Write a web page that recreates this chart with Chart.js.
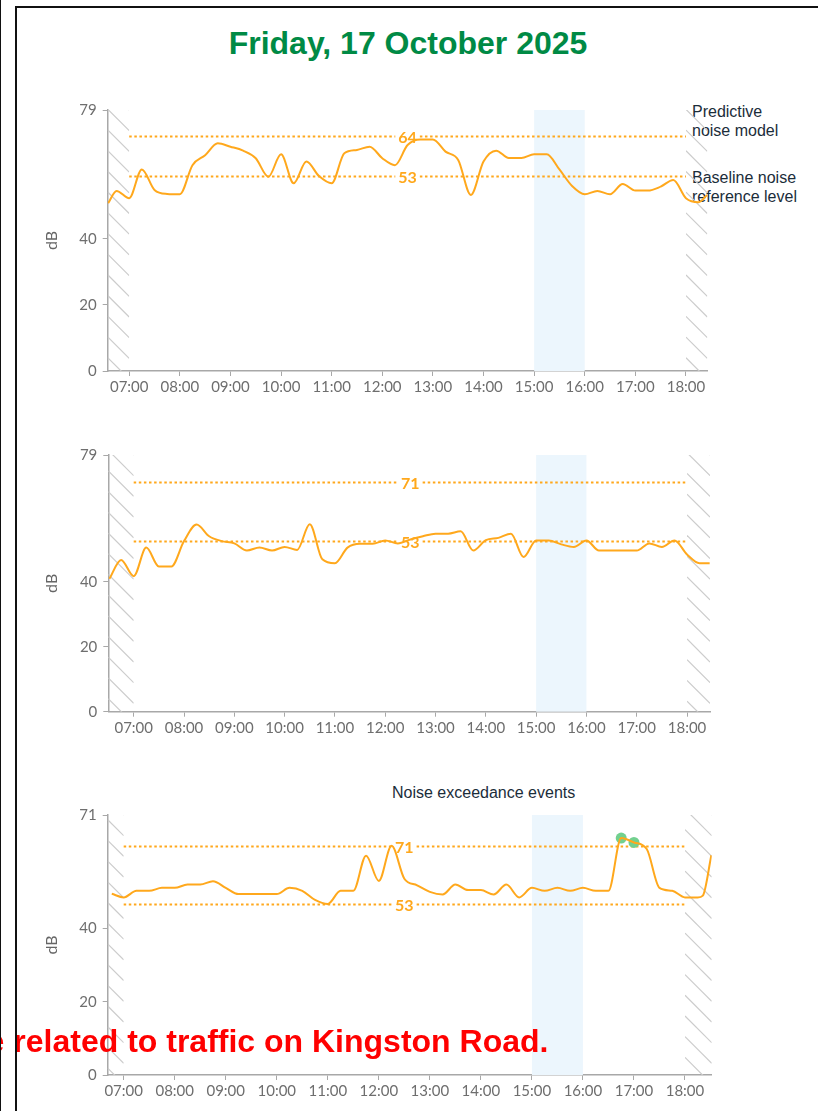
<!DOCTYPE html>
<html><head><meta charset="utf-8">
<script src="https://cdn.jsdelivr.net/npm/chart.js@4.4.1/dist/chart.umd.min.js"></script>
<style>
html,body{margin:0;padding:0;background:#fff;width:818px;height:1111px;overflow:hidden;position:relative;font-family:"Liberation Sans",Arial,sans-serif;}
canvas{position:absolute;}
.t{position:absolute;white-space:nowrap;}
#frame{position:absolute;left:15px;top:6px;width:900px;height:1200px;border-left:2.5px solid #111;border-top:2px solid #111;z-index:5;}
#edge{position:absolute;left:0;top:0;width:1.2px;height:1111px;background:#111;z-index:5;}
#title{left:0;width:816px;top:27px;text-align:center;font-size:32px;line-height:32px;font-weight:bold;color:#008a45;}
.lg{font-size:16px;line-height:19px;color:#1b2d3a;}
#note{left:-13.4px;top:1025px;font-size:32px;line-height:32px;font-weight:bold;color:#ff0000;z-index:4;}
</style></head><body>
<div id="edge"></div>
<div id="frame"></div>
<div class="t" id="title">Friday, 17 October 2025</div>
<div class="t lg" style="left:692px;top:102px;">Predictive<br>noise model</div>
<div class="t lg" style="left:692px;top:168px;">Baseline noise<br>reference level</div>
<div class="t lg" style="left:392px;top:783px;">Noise exceedance events</div>
<canvas id="c1" width="790" height="300" style="left:20px;top:95px;"></canvas>
<canvas id="c2" width="790" height="295" style="left:20px;top:440px;"></canvas>
<canvas id="c3" width="790" height="305" style="left:20px;top:800px;"></canvas>
<div class="t" id="note">e related to traffic on Kingston Road.</div>
<script>
// ---------- data ----------
const xTickLabels = ['07:00','08:00','09:00','10:00','11:00','12:00','13:00','14:00','15:00','16:00','17:00','18:00'];
const yTicks1 = [0,20,40,79];
const yTicks2 = [0,20,40,79];
const yTicks3 = [0,20,40,71];

const times1 = ['06:35','06:45','07:00','07:15','07:30','07:45','08:00','08:15','08:30','08:45','09:00','09:15','09:30','09:45','10:00','10:15','10:30','10:45','11:00','11:15','11:30','11:45','12:00','12:15','12:30','12:45','13:00','13:15','13:30','13:45','14:00','14:15','14:30','14:45','15:00','15:15','15:30','15:45','16:00','16:15','16:30','16:45','17:00','17:15','17:30','17:45','18:00','18:15','18:25'];
const values1 = [50.8,54.5,52.3,61.0,54.8,53.6,53.5,62.3,65.3,68.9,67.9,66.7,64.4,58.8,65.6,56.8,63.4,59.0,56.8,65.9,66.9,67.9,64.4,62.3,68.4,70.1,70.1,66.4,63.9,53.3,63.4,66.7,64.5,64.5,65.6,65.6,61.0,56.0,53.5,54.5,53.5,56.6,54.6,54.6,55.8,57.8,52.3,51.1,53.3];

const times2 = ['06:31','06:45','07:00','07:15','07:30','07:45','08:00','08:15','08:30','08:45','09:00','09:15','09:30','09:45','10:00','10:15','10:30','10:45','11:00','11:15','11:30','11:45','12:00','12:15','12:30','12:45','13:00','13:15','13:30','13:45','14:00','14:15','14:30','14:45','15:00','15:15','15:30','15:45','16:00','16:15','16:30','16:45','17:00','17:15','17:30','17:45','18:00','18:15','18:27'];
const values2 = [40.9,46.7,41.7,50.5,44.7,44.7,52.5,57.6,54.0,52.5,51.8,49.6,50.5,49.6,50.7,49.8,57.7,46.9,45.7,50.5,51.7,51.7,52.7,51.8,53.0,54.0,54.8,54.8,55.5,49.6,52.8,53.5,54.8,47.6,52.7,52.7,51.5,50.7,52.7,49.6,49.6,49.6,49.6,51.8,50.7,52.7,48.4,45.7,45.7];

const times3 = ['06:46','07:00','07:15','07:30','07:45','08:00','08:15','08:30','08:45','09:00','09:15','09:30','09:45','10:00','10:15','10:30','10:45','11:00','11:15','11:30','11:45','12:00','12:15','12:30','12:45','13:00','13:15','13:30','13:45','14:00','14:15','14:30','14:45','15:00','15:15','15:30','15:45','16:00','16:15','16:30','16:45','17:00','17:15','17:30','17:45','18:00','18:15','18:21','18:31'];
const values3 = [49.5,48.5,50.3,50.3,51.1,51.1,52.0,52.0,52.9,51.1,49.4,49.4,49.4,49.4,51.1,50.3,47.8,46.7,50.3,50.3,59.9,53.0,62.6,53.6,51.8,50.0,49.3,52.0,50.5,50.5,49.3,52.0,48.5,51.1,50.3,51.1,50.3,51.1,50.3,50.3,64.7,63.5,61.7,51.1,50.3,48.5,48.5,49.0,60.0];

const eventTimes = ['16:45','17:00'];
const eventValues = [64.7,63.5];

const refValues1 = [71.2,58.9]; const refLabels1 = ['64','53'];
const refValues2 = [70.6,52.6]; const refLabels2 = ['71','53'];
const refValues3 = [62.6,46.7]; const refLabels3 = ['71','53'];

const bandStart = '15:00', bandEnd = '16:00';
const coverStart = '07:00', coverEnd = '18:00';
const refLabelAt = '12:30';

// ---------- helpers ----------
function hm(s){const p=s.split(':');return (+p[0])*60+(+p[1]);}
const hourValues = xTickLabels.map(hm);
const ORANGE = '#ffa81c';

function hatch(ctx,x0,x1,top,bottom){
  ctx.save();
  ctx.beginPath(); ctx.rect(x0,top,x1-x0,bottom-top); ctx.clip();
  ctx.strokeStyle='#cccccc'; ctx.lineWidth=1.2;
  const w=x1-x0, step=20.7;
  for(let y=top-w-step*2; y<bottom+step; y+=step){
    ctx.beginPath(); ctx.moveTo(x0,y); ctx.lineTo(x1,y+w); ctx.stroke();
  }
  ctx.restore();
}

const deco = {
  id:'deco',
  beforeDatasetsDraw(chart){
    const o = chart.options.plugins.deco;
    const {ctx, chartArea:a} = chart; const x=chart.scales.x, y=chart.scales.y;
    ctx.save();
    const b0=x.getPixelForValue(hm(bandStart)), b1=x.getPixelForValue(hm(bandEnd));
    ctx.fillStyle='#ecf6fd'; ctx.fillRect(b0,a.top,b1-b0,a.bottom-a.top);
    const c0=x.getPixelForValue(hm(coverStart)), c1=x.getPixelForValue(hm(coverEnd));
    hatch(ctx,a.left,c0,a.top,a.bottom); hatch(ctx,c1,a.right,a.top,a.bottom);
    const lx=x.getPixelForValue(hm(refLabelAt));
    ctx.font='bold 16px Lato'; ctx.textAlign='center'; ctx.textBaseline='middle';
    o.refs.forEach((v,i)=>{
      const py=Math.round(y.getPixelForValue(v))+0.5;
      const lab=o.labels[i]; const w=ctx.measureText(lab).width;
      ctx.strokeStyle=ORANGE; ctx.lineWidth=2; ctx.setLineDash([2.5,2.6]);
      ctx.beginPath(); ctx.moveTo(c0,py); ctx.lineTo(lx-w/2-3,py); ctx.stroke();
      ctx.beginPath(); ctx.moveTo(lx+w/2+3,py); ctx.lineTo(c1,py); ctx.stroke();
      ctx.setLineDash([]);
      ctx.fillStyle=ORANGE; ctx.fillText(lab,lx,py+1);
    });
    ctx.restore();
  },
  afterDraw(chart){
    const {ctx, chartArea:a} = chart;
    ctx.save();
    ctx.translate(32,(a.top+a.bottom)/2); ctx.rotate(-Math.PI/2);
    ctx.font='16px Lato'; ctx.fillStyle='#666'; ctx.textAlign='center'; ctx.textBaseline='middle';
    ctx.fillText('dB',0,0);
    ctx.restore();
  }
};

function build(id, times, values, xmin, xmax, yTicks, refs, labels, geom, extra){
  const datasets=[{
    data: times.map((t,i)=>({x:hm(t),y:values[i]})),
    borderColor:ORANGE, borderWidth:2, pointRadius:0, fill:false,
    cubicInterpolationMode:'monotone'
  }];
  if(extra) datasets.push(extra);
  return new Chart(document.getElementById(id),{
    type:'line',
    data:{datasets},
    plugins:[deco],
    options:{
      responsive:false, animation:false, devicePixelRatio:1,
      layout:{padding:{top:geom.padTop,right:geom.padRight,left:0,bottom:0}},
      plugins:{legend:{display:false},tooltip:{enabled:false},deco:{refs,labels}},
      scales:{
        x:{type:'linear',min:xmin,max:xmax,
          afterBuildTicks:s=>{s.ticks=hourValues.map(v=>({value:v}));},
          afterFit:s=>{s.height=geom.xHeight;},
          ticks:{autoSkip:false,maxRotation:0,padding:2,color:'#6e6e6e',font:{family:'Lato',size:15},
            callback:v=>xTickLabels[hourValues.indexOf(v)]},
          grid:{drawOnChartArea:false,drawTicks:true,tickLength:5,color:'#a8a8a8',lineWidth:1},
          border:{display:true,color:'#a8a8a8',width:1.5}},
        y:{type:'linear',min:0,max:yTicks[yTicks.length-1],
          afterBuildTicks:s=>{s.ticks=yTicks.map(v=>({value:v}));},
          afterFit:s=>{s.width=geom.yWidth;},
          ticks:{padding:6,color:'#6e6e6e',font:{family:'Lato',size:15},callback:v=>String(v)},
          grid:{drawOnChartArea:false,drawTicks:true,tickLength:5,color:'#a8a8a8',lineWidth:1},
          border:{display:true,color:'#a8a8a8',width:1.5}}
      }
    }
  });
}

build('c1',times1,values1,394.5,1105.3,yTicks1,refValues1,refLabels1,{yWidth:87.7,xHeight:24,padTop:15,padRight:102.7});
build('c2',times2,values2,389.7,1107.4,yTicks2,refValues2,refLabels2,{yWidth:88.3,xHeight:23.3,padTop:10.7,padRight:100});
build('c3',times3,values3,401.2,1111.4,yTicks3,refValues3,refLabels3,{yWidth:87.7,xHeight:30,padTop:12.3,padRight:98.3},
  {data:eventTimes.map((t,i)=>({x:hm(t),y:eventValues[i]})),showLine:false,pointRadius:5.5,pointBackgroundColor:'#72d08f',pointBorderWidth:0,borderColor:'#72d08f'});
</script>
</body></html>
